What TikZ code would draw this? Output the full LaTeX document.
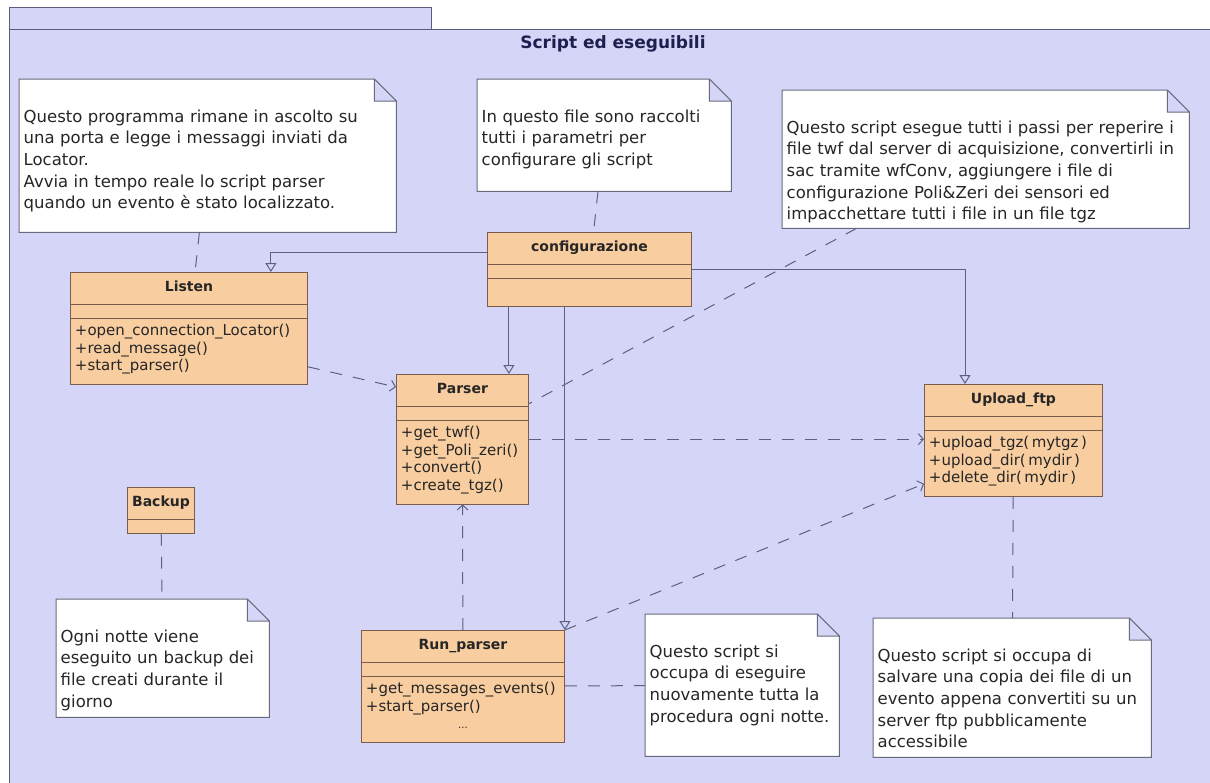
\documentclass[tikz,border=0pt]{standalone}
\usepackage{fontspec}
\setmainfont{DejaVu Sans}
\usepackage{xcolor}
\usepackage{tikz}
\usetikzlibrary{arrows.meta,positioning,shapes.multipart,backgrounds}
\definecolor{pkgfill}{HTML}{D5D5F8}
\definecolor{pkgline}{HTML}{5C5C78}
\definecolor{classfill}{HTML}{F8CD9F}
\definecolor{classline}{HTML}{7A5C4A}
\definecolor{noteline}{HTML}{6A6A7E}
\definecolor{linkgray}{HTML}{5E6080}
\definecolor{titlenavy}{HTML}{1F1F4F}
\newcommand{\notefont}{\fontsize{16.5}{21.6}\selectfont}
\newcommand{\opsfont}{\fontsize{15}{17.6}\selectfont}
\newcommand{\namefont}{\fontsize{14}{17}\selectfont\bfseries}
\newcommand{\namestrut}{\rule[-12pt]{0pt}{31pt}}
\newcommand{\clsname}[1]{\namestrut\hspace*{\fill}{\namefont #1}\hspace*{\fill}\null}
\newcommand{\attrstrut}{\rule{0pt}{13pt}}
\newcommand{\opstop}{\rule{0pt}{17pt}}
\newcommand{\opsend}{\rule[-13pt]{0pt}{13pt}}
\tikzset{
  umlclass/.style={draw=classline, fill=classfill, line width=0.9pt, rectangle split, rectangle split parts=3, rectangle split part align={center,left,left}, inner xsep=4.5pt, inner ysep=0pt, font=\opsfont, text=black!85, anchor=north west},
  notebox/.style={align=left, inner xsep=4.5pt, inner ysep=0pt, text height=43pt, font=\notefont, text=black!85, anchor=north west},
  inherit/.style={draw=linkgray, line width=1pt, -{Triangle[open, length=9pt, width=11pt]}},
  depend/.style={draw=linkgray, line width=1pt, dash pattern=on 12pt off 11pt, -{Straight Barb[length=5pt, width=11pt]}},
  anchorline/.style={draw=linkgray, line width=1pt, dash pattern=on 12pt off 11pt}
}

\begin{document}
\begin{tikzpicture}[x=1pt, y=-1pt]
  \useasboundingbox (0,0) rectangle (1210,782);

  \node[font=\fontsize{17}{20}\selectfont\bfseries, text=titlenavy] (pkgtitle) at (613,44) {Script ed eseguibili};

  \node[notebox, text width=368pt, text depth=110pt] (noteListen) at (19,79) {Questo programma rimane in ascolto su\\una porta e legge i messaggi inviati da\\Locator.\\Avvia in tempo reale lo script parser\\quando un evento è stato localizzato.};
  \node[notebox, text width=245pt, text depth=69pt] (noteConfig) at (477,79) {In questo file sono raccolti\\tutti i parametri per\\configurare gli script};
  \node[notebox, text width=398pt, text depth=95pt] (noteParser) at (782,90) {Questo script esegue tutti i passi per reperire i\\file twf dal server di acquisizione, convertirli in\\sac tramite wfConv, aggiungere i file di\\configurazione Poli\&Zeri dei sensori ed\\impacchettare tutti i file in un file tgz};
  \node[notebox, text width=204pt, text depth=75pt] (noteBackup) at (56,599) {Ogni notte viene\\eseguito un backup dei\\file creati durante il\\giorno};
  \node[notebox, text width=185pt, text depth=99pt] (noteRun) at (645,614) {Questo script si\\occupa di eseguire\\nuovamente tutta la\\procedura ogni notte.};
  \node[notebox, text width=269pt, text depth=96pt] (noteUpload) at (873,618) {Questo script si occupa di\\salvare una copia dei file di un\\evento appena convertiti su un\\server ftp pubblicamente\\accessibile};

  \node[umlclass, text width=195pt] (config) at (487,232) {\clsname{configurazione}\nodepart{two}\attrstrut\nodepart{three}\rule{0pt}{27pt}};
  \node[umlclass, text width=228pt] (listen) at (70,272) {\clsname{Listen}\nodepart{two}\attrstrut\nodepart{three}\opstop+open\_connection\_Locator()\\+read\_message()\\+start\_parser()\opsend};
  \node[umlclass, text width=123pt] (parser) at (396,374) {\clsname{Parser}\nodepart{two}\attrstrut\nodepart{three}\opstop+get\_twf()\\+get\_Poli\_zeri()\\+convert()\\+create\_tgz()\opsend};
  \node[umlclass, text width=169pt] (upload) at (924,384) {\clsname{Upload\_ftp}\nodepart{two}\attrstrut\nodepart{three}\opstop+upload\_tgz(\,mytgz\,)\\+upload\_dir(\,mydir\,)\\+delete\_dir(\,mydir\,)\opsend};
  \node[umlclass, rectangle split parts=2, text width=58pt] (backup) at (127,487) {\clsname{Backup}\nodepart{two}\attrstrut};
  \node[umlclass, text width=194pt] (run) at (361,630) {\clsname{Run\_parser}\nodepart{two}\attrstrut\nodepart{three}\opstop+get\_messages\_events()\\+start\_parser()\\\hspace*{\fill}{\fontsize{10}{10}\selectfont ...}\hspace*{\fill}\opsend};

  \coordinate (listenIn) at ([xshift=-37pt]listen.north east);
  \coordinate (parserIn) at ([xshift=-20pt]parser.north east);
  \coordinate (uploadIn) at ([xshift=41pt]upload.north west);

  \draw[inherit] ([yshift=-20pt]config.north west) -| (listenIn);
  \draw[inherit] (config.south -| parserIn) -- (parserIn);
  \draw[inherit] (config.south -| run.north east) -- (run.north east);
  \draw[inherit] (config.east) -| (uploadIn);

  \draw[depend] ([yshift=18pt]listen.south east) -- ([yshift=-13pt]parser.north west);
  \draw[depend] (parser.east) -- (upload.west |- parser.east);
  \draw[depend] (run) -- (parser);
  \draw[depend] (run.north east) -- ([yshift=13pt]upload.south west);

  \draw[anchorline] (noteListen) -- (listen);
  \draw[anchorline] (noteConfig) -- (config);
  \draw[anchorline] (noteParser) -- (parser);
  \draw[anchorline] (backup) -- (noteBackup);
  \draw[anchorline] (run) -- (noteRun);
  \draw[anchorline] (upload) -- (noteUpload);

  \begin{scope}[on background layer]
    \draw[pkgline, fill=pkgfill, line width=1pt] (9,7) rectangle (431,29);
    \draw[pkgline, fill=pkgfill, line width=1pt] (9,29) rectangle (1218,790);
    \foreach \n in {noteListen,noteConfig,noteParser,noteBackup,noteRun,noteUpload}
      \draw[noteline, fill=white, line width=1pt] (\n.north west) -- ([xshift=-22pt]\n.north east) -- ([yshift=-22pt]\n.north east) -- (\n.south east) -- (\n.south west) -- cycle
        ([xshift=-22pt]\n.north east) |- ([yshift=-22pt]\n.north east);
  \end{scope}
\end{tikzpicture}
\end{document}
